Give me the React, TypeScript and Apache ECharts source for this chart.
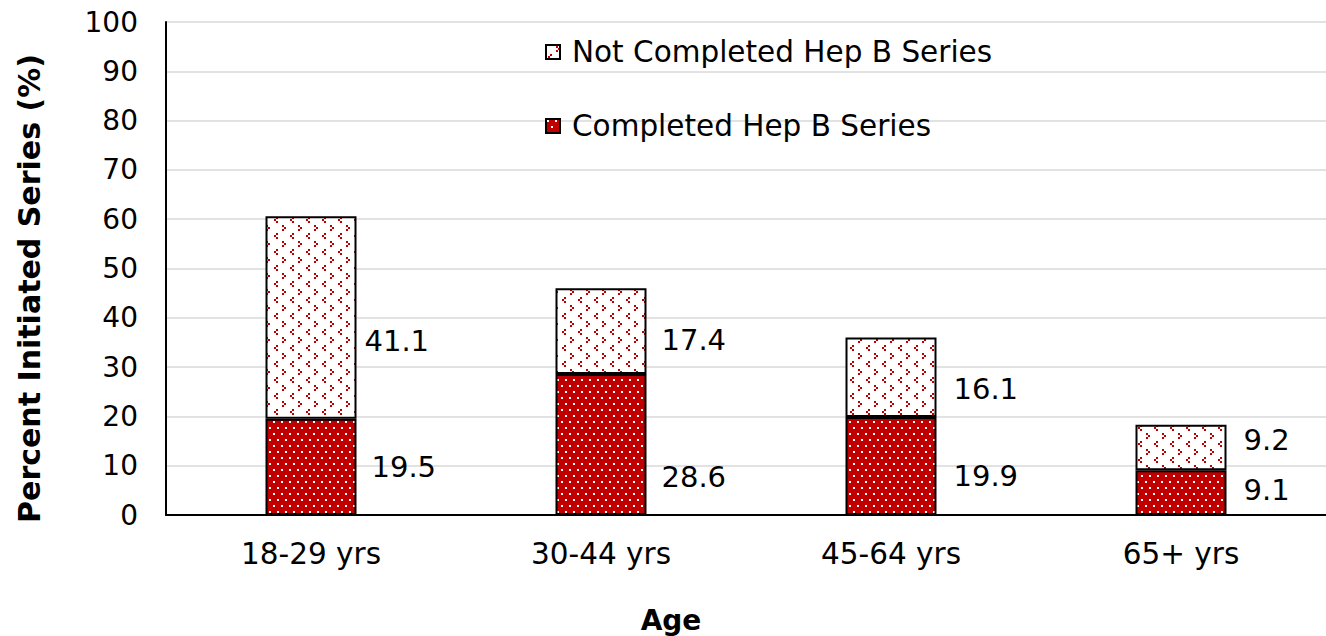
import React, { useEffect, useRef } from 'react';
import * as echarts from 'echarts';

const categories = ['18-29 yrs', '30-44 yrs', '45-64 yrs', '65+ yrs'];
const completed = [19.5, 28.6, 19.9, 9.1];
const notCompleted = [41.1, 17.4, 16.1, 9.2];
const seriesNames = ['Not Completed Hep B Series', 'Completed Hep B Series'];
const yMin = 0;
const yMax = 100;
const yInterval = 10;

// label nudges (pixels) to match the original placement
const completedLabelOffset = [[15, 0], [15, 32], [17, 10], [17, -3]];
const notCompletedLabelOffset = [[8, 23], [15, 9], [17, 12], [17, -7]];

const FONT = '"DejaVu Sans", Verdana, sans-serif';
const RED = '#C00000';

function makeCompletedPattern() {
  const c = document.createElement('canvas');
  c.width = 8;
  c.height = 12;
  const ctx = c.getContext('2d')!;
  ctx.fillStyle = RED;
  ctx.fillRect(0, 0, 8, 12);
  ctx.fillStyle = '#ffffff';
  ctx.fillRect(1, 1, 2, 2);
  ctx.fillRect(5, 7, 2, 2);
  return { image: c, repeat: 'repeat', imageWidth: 8, imageHeight: 12 };
}

function makeNotCompletedPattern() {
  const c = document.createElement('canvas');
  c.width = 16;
  c.height = 16;
  const ctx = c.getContext('2d')!;
  ctx.fillStyle = '#ffffff';
  ctx.fillRect(0, 0, 16, 16);
  ctx.fillStyle = RED;
  // ">" mark
  ctx.fillRect(10, 1, 2, 2);
  ctx.fillRect(12, 3, 2, 2);
  ctx.fillRect(10, 5, 2, 2);
  // "<" mark
  ctx.fillRect(4, 9, 2, 2);
  ctx.fillRect(2, 11, 2, 2);
  ctx.fillRect(4, 13, 2, 2);
  return { image: c, repeat: 'repeat', imageWidth: 16, imageHeight: 16 };
}

export default function App() {
  const ref = useRef<HTMLDivElement>(null);

  useEffect(() => {
    if (!ref.current) return;
    const chart = echarts.init(ref.current, undefined, { renderer: 'svg' });
    const completedFill = makeCompletedPattern();
    const notCompletedFill = makeNotCompletedPattern();

    const labelBase = {
      show: true,
      position: 'right',
      distance: 0,
      color: '#000',
      fontSize: 29,
      fontFamily: FONT,
    };

    chart.setOption({
      animation: false,
      textStyle: { fontFamily: FONT },
      grid: {
        left: 166,
        right: 0,
        top: 22,
        bottom: 121,
        containLabel: false,
        outerBoundsMode: 'none',
      },
      legend: {
        orient: 'vertical',
        left: 540,
        top: 32,
        itemGap: 44,
        itemWidth: 14,
        itemHeight: 14,
        icon: 'rect',
        data: seriesNames,
        textStyle: {
          fontSize: 29.5,
          fontFamily: FONT,
          color: '#000',
          lineHeight: 30,
          padding: [0, 0, 0, 7],
        },
      },
      xAxis: {
        type: 'category',
        data: categories,
        axisTick: { show: false },
        axisLine: { lineStyle: { color: '#000', width: 2 } },
        axisLabel: { fontSize: 29.5, color: '#000', margin: 24, fontFamily: FONT },
        name: 'Age',
        nameLocation: 'middle',
        nameGap: 91,
        nameTextStyle: {
          fontSize: 28,
          fontWeight: 'bold',
          color: '#000',
          fontFamily: FONT,
          padding: [0, 150, 0, 0],
        },
      },
      yAxis: {
        type: 'value',
        min: yMin,
        max: yMax,
        interval: yInterval,
        axisLine: { show: true, lineStyle: { color: '#000', width: 2 } },
        axisTick: { show: false },
        splitLine: { lineStyle: { color: '#d9d9d9', width: 1.5 } },
        axisLabel: { fontSize: 28, color: '#000', margin: 28, fontFamily: FONT },
        name: 'Percent Initiated Series (%)',
        nameLocation: 'middle',
        nameGap: 122,
        nameTextStyle: {
          fontSize: 30,
          fontWeight: 'bold',
          color: '#000',
          fontFamily: FONT,
          padding: [0, 40, 0, 0],
        },
      },
      series: [
        {
          name: seriesNames[1],
          type: 'bar',
          stack: 'total',
          barWidth: 91,
          itemStyle: { color: completedFill, borderColor: '#000', borderWidth: 2 },
          data: completed.map((v, i) => ({
            value: v,
            label: { ...labelBase, offset: completedLabelOffset[i] },
          })),
        },
        {
          name: seriesNames[0],
          type: 'bar',
          stack: 'total',
          barWidth: 91,
          itemStyle: { color: notCompletedFill, borderColor: '#000', borderWidth: 2 },
          data: notCompleted.map((v, i) => ({
            value: v,
            label: { ...labelBase, offset: notCompletedLabelOffset[i] },
          })),
        },
      ],
    });

    return () => chart.dispose();
  }, []);

  return (
    <div
      ref={ref}
      style={{ position: 'fixed', left: 0, top: 0, width: 1326, height: 636, background: '#fff' }}
    />
  );
}
